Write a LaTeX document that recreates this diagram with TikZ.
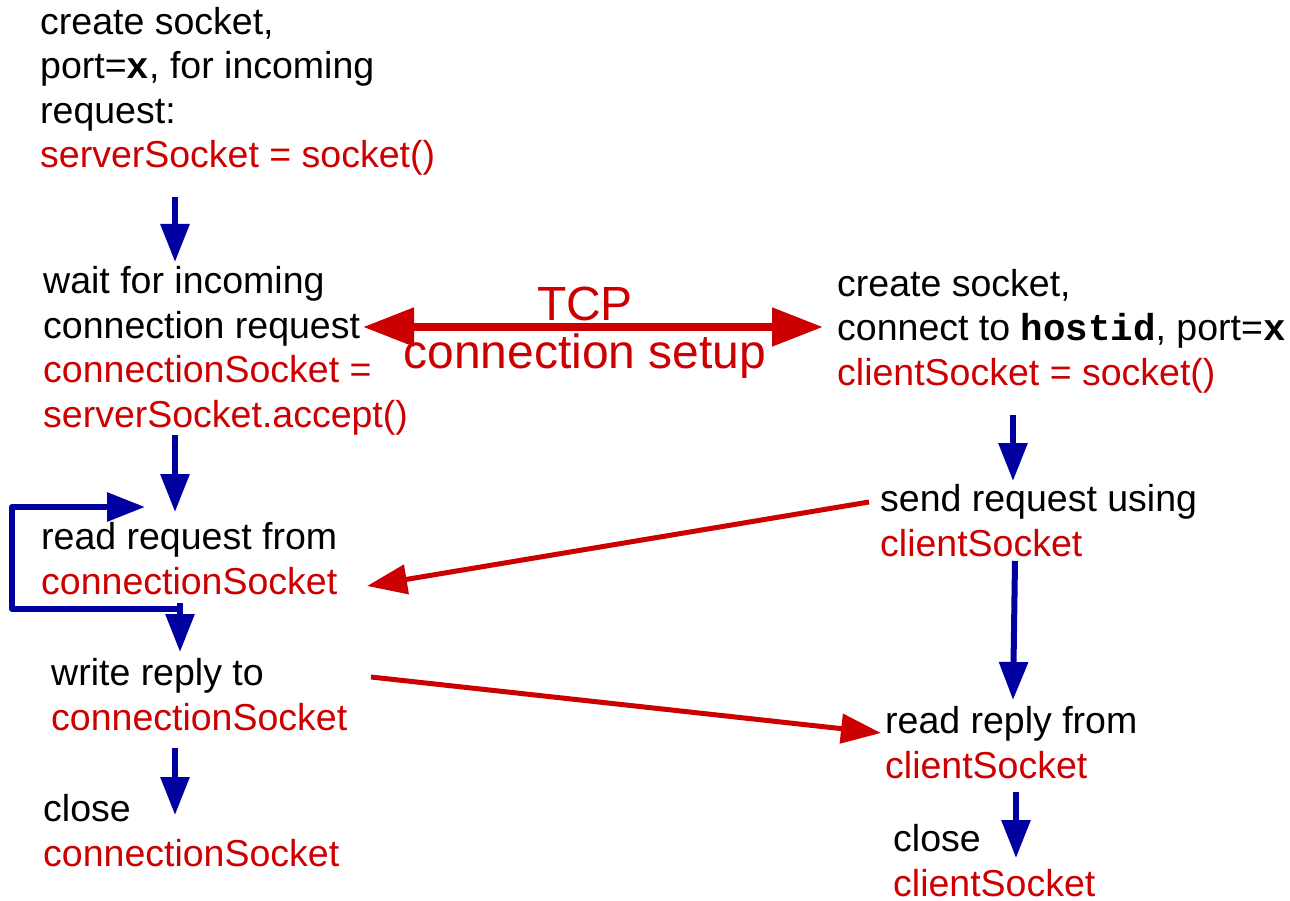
\documentclass[tikz,border=0pt]{standalone}
\usepackage{fontspec}
\setmainfont{Liberation Sans}
\setmonofont{Liberation Mono}
\usetikzlibrary{arrows.meta}
\definecolor{cred}{RGB}{204,0,0}
\definecolor{cblue}{RGB}{0,0,160}
\newcommand{\redtxt}[1]{\textcolor{cred}{#1}}
\newcommand{\codetxt}[1]{\textbf{\texttt{#1}}}
\tikzset{
  txt/.style={anchor=base west, inner sep=0pt, align=left, font=\fontsize{37.5}{44.5}\selectfont},
  bigtxt/.style={anchor=base, inner sep=0pt, align=center, text=cred, font=\fontsize{48}{48}\selectfont},
  bluearrow/.style={draw=cblue, line width=6pt, -{Triangle[length=38pt,width=28pt]}},
  redarrow/.style={draw=cred, line width=5pt, -{Triangle[length=40pt,width=29pt]}},
  tcparrow/.style={draw=cred, line width=8pt, {Triangle[length=51pt,width=37pt]}-{Triangle[length=51pt,width=37pt]}}
}
\begin{document}
\begin{tikzpicture}[x=1pt,y=-1pt]
\useasboundingbox (0,0) rectangle (1290,901);
% server side (anchors at baseline of last line)
\node[txt] (A) at (40,168) {create socket,\\port=\codetxt{x}, for incoming\\request:\\\redtxt{serverSocket = socket()}};
\node[txt] (B) at (43,427) {wait for incoming\\connection request\\\redtxt{connectionSocket =}\\\redtxt{serverSocket.accept()}};
\node[txt] (C) at (41,594) {read request from\\\redtxt{connectionSocket}};
\node[txt] (D) at (51,730) {write reply to\\\redtxt{connectionSocket}};
\node[txt] (E) at (43,866) {close\\\redtxt{connectionSocket}};
% client side
\node[txt] (F) at (837,385) {create socket,\\connect to \codetxt{hostid}, port=\codetxt{x}\\\redtxt{clientSocket = socket()}};
\node[txt] (G) at (880,556) {send request using\\\redtxt{clientSocket}};
\node[txt] (H) at (885,778) {read reply from\\\redtxt{clientSocket}};
\node[txt] (I) at (893,896) {close\\\redtxt{clientSocket}};
% TCP label
\node[bigtxt] (T) at (585,320) {TCP};
\node[bigtxt] (T2) at (585,368) {connection setup};
% coordinates
\coordinate (a1s) at (175,197); \coordinate (a1e) at (175,262);
\coordinate (a2s) at (175,435); \coordinate (a2e) at (175,512);
\coordinate (l0) at (183,609); \coordinate (l1) at (12,609); \coordinate (l2) at (12,507); \coordinate (l3) at (145,507);
\coordinate (a3s) at (180,603); \coordinate (a3e) at (180,652);
\coordinate (a4s) at (175,748); \coordinate (a4e) at (175,815);
\coordinate (b1s) at (1013,415); \coordinate (b1e) at (1013,481);
\coordinate (b2s) at (1015,561); \coordinate (b2e) at (1013,700);
\coordinate (b3s) at (1016,792); \coordinate (b3e) at (1016,858);
\coordinate (t1) at (363,327); \coordinate (t2) at (823,327);
\coordinate (r1s) at (869,502); \coordinate (r1e) at (367,586);
\coordinate (r2s) at (371,677); \coordinate (r2e) at (881,733);
% blue arrows
\draw[bluearrow] (a1s) -- (a1e);
\draw[bluearrow] (a2s) -- (a2e);
\draw[bluearrow, line join=round] (l0) -- (l1) -- (l2) -- (l3);
\draw[bluearrow] (a3s) -- (a3e);
\draw[bluearrow] (a4s) -- (a4e);
\draw[bluearrow] (b1s) -- (b1e);
\draw[bluearrow] (b2s) -- (b2e);
\draw[bluearrow] (b3s) -- (b3e);
% red arrows
\draw[tcparrow] (t1) -- (t2);
\draw[redarrow] (r1s) -- (r1e);
\draw[redarrow] (r2s) -- (r2e);
\end{tikzpicture}
\end{document}
